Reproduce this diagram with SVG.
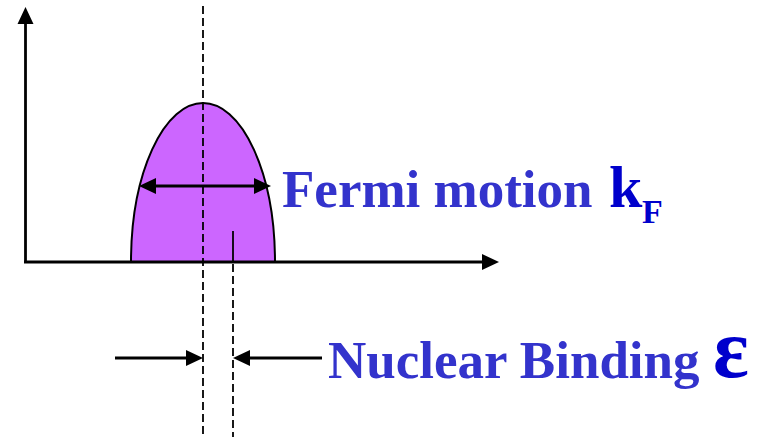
<svg xmlns="http://www.w3.org/2000/svg" width="766" height="437" viewBox="0 0 766 437">
<style>
.ax{stroke:#000;stroke-width:2.8;fill:none}
.dash{stroke:#000;stroke-width:1.8;stroke-dasharray:8,4;fill:none}
.thin{stroke:#000;stroke-width:1.8;fill:none}
.lbl{font-family:"Liberation Serif","Times New Roman",serif;font-weight:bold;fill:#3333cc}
.sym{font-family:"Liberation Serif","Times New Roman",serif;font-weight:bold;fill:#0000cc}
</style>
<defs>
<marker id="ah" markerUnits="userSpaceOnUse" markerWidth="17" markerHeight="16" refX="0" refY="8" orient="auto-start-reverse" overflow="visible">
<path d="M0,0 L17,8 L0,16 z" fill="#000"/>
</marker>
</defs>
<g id="curve">
<path d="M131,262 A72,159 0 0 1 275,262 Z" fill="#cc66ff" stroke="#000" stroke-width="2"/>
</g>
<g id="axes">
<line class="ax" x1="25.5" y1="263" x2="25.5" y2="24" marker-end="url(#ah)"/>
<line class="ax" x1="24" y1="262" x2="482" y2="262" marker-end="url(#ah)"/>
</g>
<g id="connectors">
<line class="dash" x1="203" y1="6" x2="203" y2="437"/>
<line class="thin" x1="233" y1="231" x2="233" y2="262"/>
<line class="dash" x1="233" y1="264" x2="233" y2="437"/>
<line class="ax" x1="156" y1="186" x2="254" y2="186" marker-start="url(#ah)" marker-end="url(#ah)"/>
<line class="ax" x1="115" y1="358" x2="186" y2="358" marker-end="url(#ah)"/>
<line class="ax" x1="322" y1="358" x2="250" y2="358" marker-end="url(#ah)"/>
</g>
<g id="fermi">
<text class="lbl" x="282" y="207" font-size="53">Fermi motion</text>
<text class="sym" x="609" y="207" font-size="60">k</text>
<text class="sym" x="642" y="223" font-size="34">F</text>
</g>
<g id="binding">
<text class="lbl" x="328" y="378" font-size="53">Nuclear Binding</text>
<text class="sym" x="713" y="377" font-size="84">ε</text>
</g>
</svg>
